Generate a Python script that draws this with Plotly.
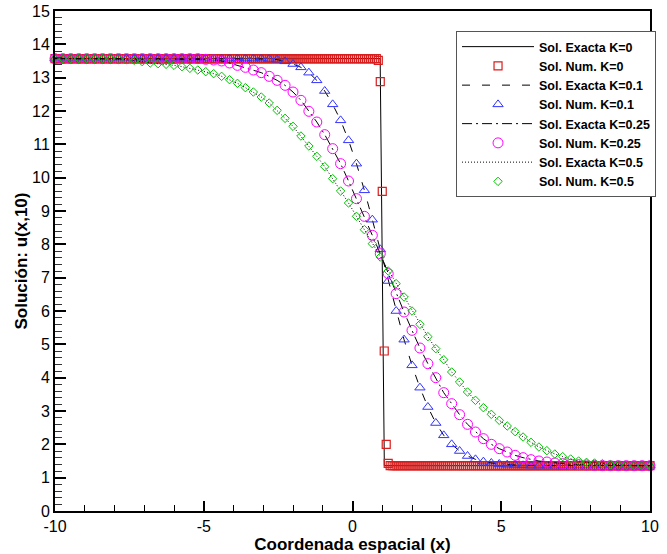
import numpy as np
import plotly.graph_objects as go

# ---------------- data ----------------
# grid of the numerical solutions with K > 0 (76 nodes on [-10, 10])
x_num = np.linspace(-10, 10, 76)
# fine grid of the numerical solution with K = 0 (301 nodes)
x_num_k0 = np.linspace(-10, 10, 301)

# exact solution K = 0 (step)
x_exact_k0 = [-10.0, 0.93, 1.07, 10.0]
u_exact_k0 = [13.57, 13.57, 1.36, 1.36]

# numerical K = 0
u_num_k0 = [13.57] * 163 + [13.52, 12.88, 9.59, 4.8, 2.0, 1.43] + [1.36] * 132

# numerical K = 0.1
u_num_k01 = [13.57] * 27 + [
    13.56, 13.54, 13.49, 13.41, 13.31, 13.15, 12.92, 12.6, 12.2, 11.72,
    11.12, 10.42, 9.62, 8.74, 7.85, 6.9, 6.0, 5.14, 4.37, 3.7,
    3.12, 2.64, 2.27, 2.0, 1.8, 1.65, 1.55, 1.48, 1.44, 1.41,
    1.39, 1.38, 1.37] + [1.36] * 16

# numerical K = 0.25
u_num_k025 = [13.57] * 19 + [
    13.55, 13.53, 13.5, 13.44, 13.37, 13.31, 13.23, 13.15, 13.04, 12.92,
    12.77, 12.57, 12.32, 11.99, 11.67, 11.29, 10.87, 10.42, 9.9, 9.37,
    8.84, 8.27, 7.72, 7.12, 6.52, 5.97, 5.42, 4.89, 4.42, 4.0,
    3.55, 3.22, 2.89, 2.6, 2.37, 2.17, 2.0, 1.87, 1.77, 1.67,
    1.6, 1.54, 1.5, 1.47, 1.44, 1.42, 1.4, 1.39, 1.38, 1.37] + [1.36] * 7

# numerical K = 0.5
u_num_k05 = [13.57] * 8 + [
    13.56, 13.54, 13.52, 13.48, 13.44, 13.42, 13.4, 13.37, 13.33, 13.28,
    13.23, 13.18, 13.12, 13.04, 12.94, 12.83, 12.7, 12.57, 12.42, 12.24,
    12.02, 11.78, 11.54, 11.25, 10.95, 10.64, 10.33, 9.97, 9.6, 9.24,
    8.84, 8.44, 8.02, 7.62, 7.2, 6.82, 6.42, 6.0, 5.6, 5.23,
    4.87, 4.54, 4.17, 3.87, 3.57, 3.32, 3.1, 2.9, 2.72, 2.55,
    2.38, 2.22, 2.06, 1.92, 1.81, 1.71, 1.63, 1.56, 1.5, 1.46,
    1.44, 1.42, 1.39, 1.38, 1.37] + [1.36, 1.36, 1.35]

# exact solutions K > 0 (coincide with the numerical values on the grid)
u_exact_k01 = list(u_num_k01)
u_exact_k025 = list(u_num_k025)
u_exact_k05 = list(u_num_k05)

names = ["Sol. Exacta K=0", "Sol. Num. K=0",
         "Sol. Exacta K=0.1", "Sol. Num. K=0.1",
         "Sol. Exacta K=0.25", "Sol. Num. K=0.25",
         "Sol. Exacta K=0.5", "Sol. Num. K=0.5"]

x_ticks = [-10, -5, 0, 5, 10]
y_ticks = list(range(0, 16))

# ---------------- figure ----------------
FONT = "Liberation Sans, Arial, sans-serif"
fig = go.Figure()

def exact(x, y, name, dash):
    fig.add_trace(go.Scatter(x=x, y=y, name=name, mode="lines",
                             line=dict(color="black", width=1, dash=dash),
                             cliponaxis=False))

def num(x, y, name, symbol, color, size, lw=1):
    fig.add_trace(go.Scatter(x=x, y=y, name=name, mode="markers",
                             marker=dict(symbol=symbol, size=size,
                                         color=color,
                                         line=dict(color=color, width=lw)),
                             cliponaxis=False))

exact(x_exact_k0, u_exact_k0, names[0], "solid")
num(x_num_k0, u_num_k0, names[1], "square-open", "#d81e1e", 8, 1.2)
exact(x_num, u_exact_k01, names[2], "8px,12px")
num(x_num, u_num_k01, names[3], "triangle-up-open", "#3333ff", 9)
exact(x_num, u_exact_k025, names[4], "10px,4px,2px,4px")
num(x_num, u_num_k025, names[5], "circle-open", "#ff00ff", 10)
exact(x_num, u_exact_k05, names[6], "1px,2px")
num(x_num, u_num_k05, names[7], "diamond-open", "#00c400", 6.5)

axis_common = dict(showline=True, linecolor="black", linewidth=2, mirror=True,
                   showgrid=False, zeroline=False, ticks="inside",
                   tickcolor="black",
                   tickfont=dict(family=FONT, size=16, color="black"))

fig.update_xaxes(range=[-10, 10], tickvals=x_ticks,
                 ticktext=[str(v) for v in x_ticks],
                 ticklen=10, tickwidth=1.5,
                 minor=dict(dtick=1, ticks="inside", ticklen=6, tickwidth=1,
                            tickcolor="black", showgrid=False),
                 title=dict(text="Coordenada espacial (x)", standoff=4,
                            font=dict(family=FONT, size=17, color="black",
                                      weight="bold")),
                 automargin=False, **axis_common)
fig.update_yaxes(range=[0, 15], tickvals=y_ticks,
                 ticktext=[str(v) for v in y_ticks],
                 ticklen=11, tickwidth=2,
                 minor=dict(dtick=0.2, ticks="inside", ticklen=7, tickwidth=1,
                            tickcolor="#333", showgrid=False),
                 title=dict(text="Solución: u(x,10)", standoff=0,
                            font=dict(family=FONT, size=17, color="black",
                                      weight="bold")),
                 automargin=False, **axis_common)

fig.update_layout(
    width=667, height=554,
    margin=dict(l=55, r=14, t=11, b=43),
    paper_bgcolor="white", plot_bgcolor="white",
    font=dict(family=FONT, color="black"),
    legend=dict(x=0.674, y=0.96, xanchor="left", yanchor="top",
                bgcolor="white", bordercolor="#555", borderwidth=1,
                font=dict(family=FONT, size=12.5, color="black", weight="bold"),
                itemwidth=72, tracegroupgap=0, itemclick=False),
    showlegend=True,
)

fig.write_html("out.html",
               config={"displayModeBar": False},
               post_script="document.body.style.margin='0px';")
